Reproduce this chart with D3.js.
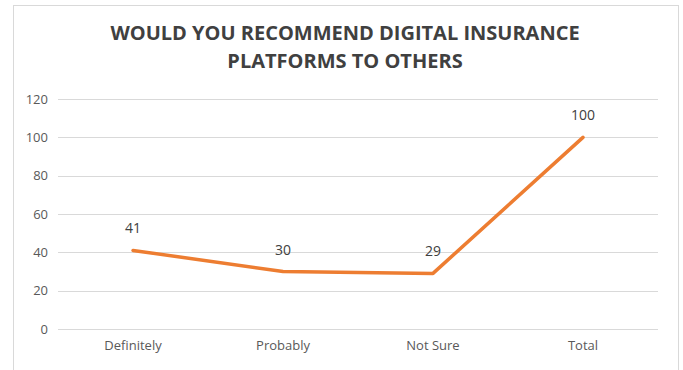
<!DOCTYPE html>
<html>
<head>
<meta charset="utf-8">
<script src="https://cdn.jsdelivr.net/npm/d3@7"></script>
<style>
  body { margin: 0; background: #fff; }
  svg { display: block; }
</style>
</head>
<body>
<div id="chart"></div>
<script>
const categories = ["Definitely", "Probably", "Not Sure", "Total"];
const values = [41, 30, 29, 100];
const yTicks = [0, 20, 40, 60, 80, 100, 120];
const titleLines = ["WOULD YOU RECOMMEND DIGITAL INSURANCE", "PLATFORMS TO OTHERS"];

const width = 683, height = 370;
const plotLeft = 58, plotRight = 658, plotTop = 99, plotBottom = 329;
const font = "Open Sans, sans-serif";

const svg = d3.select("#chart")
  .append("svg")
  .attr("width", width)
  .attr("height", height);

// chart frame
svg.append("rect")
  .attr("x", 13.5)
  .attr("y", 5.5)
  .attr("width", 665)
  .attr("height", 370)
  .attr("fill", "#fff")
  .attr("stroke", "#d9d9d9");

svg.append("g")
  .selectAll("text")
  .data(titleLines)
  .enter()
  .append("text")
  .attr("x", 345)
  .attr("y", (d, i) => 40 + i * 28)
  .attr("text-anchor", "middle")
  .attr("font-family", font)
  .attr("font-size", "20px")
  .attr("font-weight", 700)
  .attr("fill", "#404040")
  .text(d => d);

const x = d3.scaleBand()
  .domain(categories)
  .range([plotLeft, plotRight]);

const y = d3.scaleLinear()
  .domain([0, 120])
  .range([plotBottom, plotTop]);

// gridlines
svg.append("g")
  .selectAll("line")
  .data(yTicks)
  .enter()
  .append("line")
  .attr("x1", plotLeft)
  .attr("x2", plotRight)
  .attr("y1", d => Math.round(y(d)) + 0.5)
  .attr("y2", d => Math.round(y(d)) + 0.5)
  .attr("stroke", "#d9d9d9");

// y axis labels
const yAxis = svg.append("g")
  .attr("transform", `translate(${plotLeft},0)`)
  .call(d3.axisLeft(y).tickValues(yTicks).tickSize(0).tickPadding(10));
yAxis.select(".domain").remove();
yAxis.selectAll("text")
  .attr("font-family", font)
  .attr("font-size", "13px")
  .attr("fill", "#595959");

// x axis labels
const xAxis = svg.append("g")
  .attr("transform", `translate(0,${plotBottom})`)
  .call(d3.axisBottom(x).tickSize(0).tickPadding(12));
xAxis.select(".domain").remove();
xAxis.selectAll("text")
  .attr("font-family", font)
  .attr("font-size", "13px")
  .attr("fill", "#595959");

const points = categories.map((c, i) => ({ cat: c, value: values[i] }));

const line = d3.line()
  .x(d => x(d.cat) + x.bandwidth() / 2)
  .y(d => y(d.value));

svg.append("path")
  .datum(points)
  .attr("d", line)
  .attr("fill", "none")
  .attr("stroke", "#ed7d31")
  .attr("stroke-width", 3.5)
  .attr("stroke-linejoin", "round")
  .attr("stroke-linecap", "round");

svg.append("g")
  .selectAll("text")
  .data(points)
  .enter()
  .append("text")
  .attr("x", d => x(d.cat) + x.bandwidth() / 2)
  .attr("y", d => y(d.value) - 17)
  .attr("text-anchor", "middle")
  .attr("font-family", font)
  .attr("font-size", "14px")
  .attr("fill", "#404040")
  .text(d => d.value);
</script>
</body>
</html>
